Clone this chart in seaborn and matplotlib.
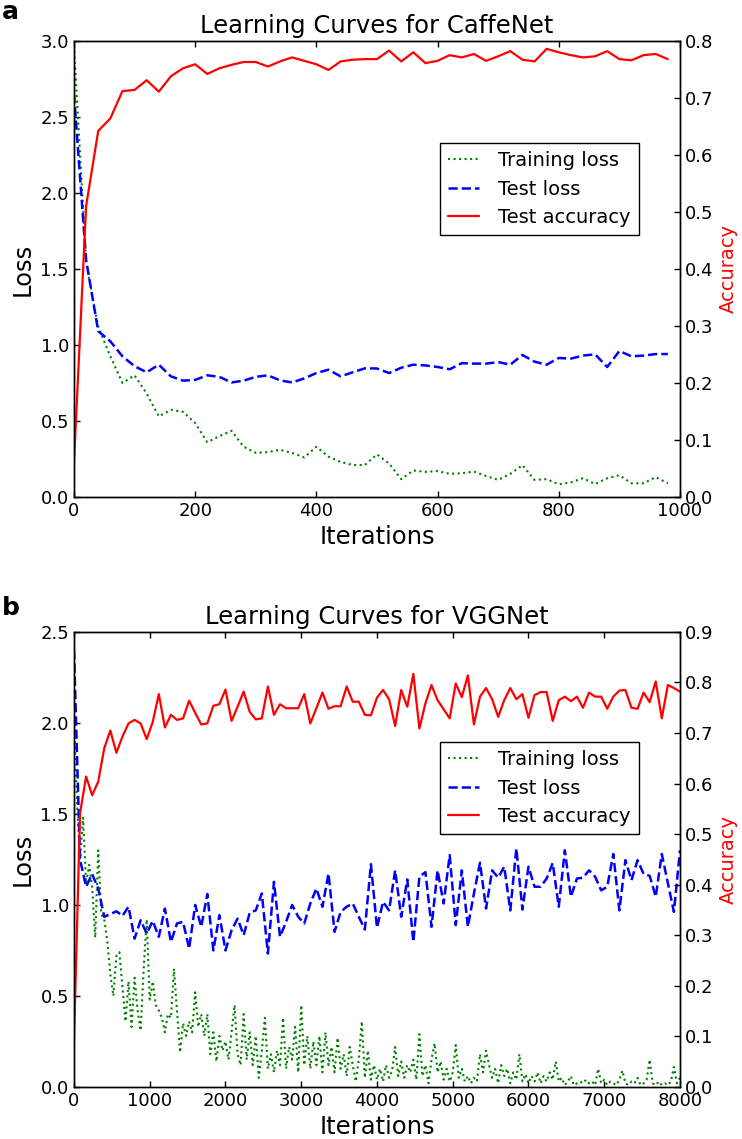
import matplotlib
matplotlib.use('Agg')
import matplotlib.pyplot as plt
import numpy as np
import seaborn as sns

# CaffeNet: every 20 iterations
caffe_iters = np.arange(0, 1000, 20)
caffe_train_loss = [2.97, 1.54, 1.12, 0.925, 0.75, 0.80, 0.68, 0.53, 0.573, 0.56,
                    0.486, 0.36, 0.40, 0.435, 0.33, 0.29, 0.295, 0.31, 0.29, 0.26,
                    0.33, 0.265, 0.23, 0.21, 0.21, 0.28, 0.22, 0.117, 0.174, 0.165,
                    0.17, 0.152, 0.156, 0.167, 0.138, 0.112, 0.152, 0.209, 0.112, 0.117,
                    0.083, 0.096, 0.123, 0.085, 0.123, 0.143, 0.09, 0.09, 0.13, 0.09]
caffe_test_loss = [2.65, 1.56, 1.09, 1.024, 0.925, 0.86, 0.82, 0.87, 0.793, 0.765,
                   0.77, 0.80, 0.79, 0.753, 0.765, 0.79, 0.80, 0.767, 0.753, 0.78,
                   0.815, 0.837, 0.793, 0.82, 0.846, 0.845, 0.815, 0.85, 0.87, 0.865,
                   0.855, 0.84, 0.88, 0.877, 0.877, 0.887, 0.87, 0.934, 0.89, 0.87,
                   0.914, 0.91, 0.93, 0.938, 0.855, 0.96, 0.925, 0.93, 0.94, 0.94]
caffe_test_acc = [0.06, 0.51, 0.642, 0.664, 0.712, 0.714, 0.731, 0.711, 0.738, 0.752,
                  0.759, 0.742, 0.752, 0.758, 0.763, 0.763, 0.755, 0.764, 0.771, 0.765,
                  0.759, 0.749, 0.764, 0.767, 0.768, 0.768, 0.783, 0.764, 0.78, 0.761,
                  0.765, 0.775, 0.771, 0.777, 0.765, 0.773, 0.782, 0.767, 0.764, 0.786,
                  0.78, 0.775, 0.771, 0.773, 0.782, 0.768, 0.766, 0.775, 0.777, 0.768]

# VGGNet: training loss every 40 iterations, tests every 80
vgg_train_iters = np.arange(0, 8001, 40)
vgg_test_iters = np.arange(0, 8001, 80)
vgg_train_loss = [2.05, 1.55, 1.25, 1.48, 1.12, 1.22, 1.10, 0.82, 1.30, 0.95,
                  0.92, 0.80, 0.62, 0.50, 0.72, 0.74, 0.55, 0.36, 0.58, 0.33,
                  0.60, 0.42, 0.31, 0.65, 0.92, 0.48, 0.58, 0.45, 0.42, 0.38,
                  0.30, 0.40, 0.38, 0.65, 0.42, 0.19, 0.35, 0.28, 0.36, 0.30,
                  0.52, 0.33, 0.40, 0.28, 0.40, 0.18, 0.30, 0.14, 0.28, 0.20,
                  0.25, 0.15, 0.30, 0.45, 0.18, 0.12, 0.40, 0.15, 0.30, 0.12,
                  0.28, 0.05, 0.20, 0.38, 0.10, 0.18, 0.08, 0.20, 0.12, 0.38,
                  0.10, 0.22, 0.15, 0.33, 0.08, 0.45, 0.12, 0.28, 0.10, 0.25,
                  0.12, 0.28, 0.08, 0.30, 0.12, 0.22, 0.08, 0.27, 0.10, 0.18,
                  0.06, 0.22, 0.12, 0.03, 0.15, 0.36, 0.05, 0.20, 0.04, 0.12,
                  0.04, 0.10, 0.03, 0.12, 0.05, 0.09, 0.22, 0.06, 0.14, 0.05,
                  0.12, 0.08, 0.15, 0.04, 0.29, 0.06, 0.12, 0.02, 0.15, 0.24,
                  0.08, 0.14, 0.04, 0.10, 0.03, 0.08, 0.23, 0.05, 0.10, 0.03,
                  0.06, 0.02, 0.05, 0.03, 0.18, 0.08, 0.20, 0.12, 0.05, 0.10,
                  0.02, 0.12, 0.06, 0.10, 0.02, 0.08, 0.04, 0.18, 0.03, 0.07,
                  0.02, 0.06, 0.03, 0.08, 0.02, 0.06, 0.03, 0.08, 0.04, 0.14,
                  0.03, 0.05, 0.01, 0.03, 0.06, 0.01, 0.02, 0.03, 0.02, 0.04,
                  0.02, 0.03, 0.01, 0.10, 0.02, 0.04, 0.01, 0.03, 0.02, 0.01,
                  0.04, 0.09, 0.02, 0.01, 0.03, 0.02, 0.05, 0.01, 0.02, 0.04,
                  0.15, 0.02, 0.01, 0.03, 0.01, 0.02, 0.01, 0.03, 0.11, 0.02, 0.05]
vgg_test_loss = [2.40, 1.25, 1.10, 1.17, 1.09, 0.935, 0.95, 0.965, 0.94, 0.99,
                 0.815, 0.916, 0.843, 0.912, 0.825, 0.98, 0.797, 0.898, 0.907, 0.76,
                 1.00, 0.88, 1.06, 0.75, 0.944, 0.75, 0.86, 0.925, 0.834, 0.957,
                 0.97, 1.063, 0.733, 1.127, 0.825, 0.907, 1.00, 0.935, 0.898, 1.008,
                 1.09, 0.99, 1.173, 0.852, 0.962, 0.99, 1.008, 0.935, 0.865, 1.224,
                 0.875, 1.017, 0.97, 1.19, 0.935, 1.14, 0.797, 1.155, 1.18, 0.88,
                 1.19, 1.008, 1.274, 0.889, 1.19, 0.88, 1.063, 1.232, 0.98, 1.19,
                 1.15, 1.21, 0.97, 1.31, 0.975, 1.21, 1.10, 1.10, 1.145, 1.23,
                 0.99, 1.30, 1.045, 1.145, 1.15, 1.19, 1.155, 1.08, 1.10, 1.28,
                 0.97, 1.246, 1.136, 1.246, 1.17, 1.16, 1.045, 1.28, 1.12, 0.962, 1.30]
vgg_test_acc = [0.09, 0.541, 0.614, 0.577, 0.604, 0.670, 0.705, 0.661, 0.693, 0.719,
                0.726, 0.719, 0.688, 0.722, 0.777, 0.711, 0.736, 0.726, 0.729, 0.764,
                0.740, 0.717, 0.719, 0.754, 0.757, 0.786, 0.724, 0.752, 0.782, 0.742,
                0.727, 0.729, 0.792, 0.736, 0.757, 0.749, 0.749, 0.749, 0.777, 0.719,
                0.749, 0.780, 0.748, 0.753, 0.753, 0.792, 0.762, 0.762, 0.736, 0.735,
                0.770, 0.785, 0.767, 0.714, 0.785, 0.752, 0.817, 0.709, 0.759, 0.795,
                0.765, 0.747, 0.729, 0.798, 0.771, 0.814, 0.717, 0.772, 0.789, 0.767,
                0.732, 0.765, 0.789, 0.767, 0.777, 0.730, 0.775, 0.781, 0.781, 0.724,
                0.765, 0.772, 0.763, 0.772, 0.750, 0.780, 0.772, 0.772, 0.748, 0.772,
                0.784, 0.785, 0.750, 0.748, 0.780, 0.761, 0.802, 0.729, 0.795, 0.789, 0.782]

sns.set_theme(style="white", rc={
    'axes.edgecolor': 'black', 'axes.linewidth': 1.0,
    'text.color': 'black', 'axes.labelcolor': 'black',
    'xtick.color': 'black', 'ytick.color': 'black',
    'xtick.direction': 'in', 'ytick.direction': 'in',
    'xtick.bottom': True, 'xtick.top': True, 'ytick.left': True,
    'xtick.major.size': 4, 'ytick.major.size': 4,
    'xtick.major.width': 1, 'ytick.major.width': 1,
})
plt.rcParams['font.family'] = ['DejaVu Sans']


def panel(ax, title, tr_x, tr_y, te_x, te_loss, te_acc, xmax, xstep, lmax, amax, legend_top):
    sns.lineplot(x=tr_x, y=tr_y, ax=ax, color='green', linestyle=':', lw=1.5, label='Training loss')
    sns.lineplot(x=te_x, y=te_loss, ax=ax, color='blue', linestyle='--', lw=1.8, label='Test loss')
    ax2 = ax.twinx()
    sns.lineplot(x=te_x, y=te_acc, ax=ax2, color='red', lw=1.6, label='Test accuracy')
    ax.get_legend().remove()
    ax2.get_legend().remove()

    ax.set_xlim(0, xmax)
    ax.set_ylim(0, lmax)
    ax2.set_ylim(0, amax)
    ax.set_xticks(np.arange(0, xmax + 1, xstep))
    ax.set_yticks(np.arange(0, lmax + 0.01, 0.5))
    ax2.set_yticks(np.arange(0, amax + 0.01, 0.1))
    ax.tick_params(labelsize=13, right=False)
    ax2.tick_params(labelsize=13, right=True, direction='in', length=4)
    for s in ax.spines.values():
        s.set_visible(True)
    for s in ax2.spines.values():
        s.set_visible(True)

    ax.set_title(title, fontsize=17.5)
    ax.set_xlabel('Iterations', fontsize=17.5)
    ax.set_ylabel('Loss', fontsize=17.5)
    ax2.set_ylabel('Accuracy', fontsize=14, color='red')

    h1, l1 = ax.get_legend_handles_labels()
    h2, l2 = ax2.get_legend_handles_labels()
    leg = ax2.legend(h1 + h2, l1 + l2, loc='upper right', bbox_to_anchor=(0.932, legend_top),
                     borderaxespad=0, fontsize=14, fancybox=False, framealpha=1,
                     edgecolor='black', handlelength=1.6, handletextpad=1.0)
    leg.get_frame().set_linewidth(1.0)


fig = plt.figure(figsize=(7.42, 11.39), dpi=100)
ax_a = fig.add_axes([0.0997, 0.5637, 0.8167, 0.4004])
ax_b = fig.add_axes([0.0997, 0.0457, 0.8167, 0.3995])

panel(ax_a, 'Learning Curves for CaffeNet', caffe_iters, caffe_train_loss, caffe_iters,
      caffe_test_loss, caffe_test_acc, 1000, 200, 3.0, 0.8, 0.776)
panel(ax_b, 'Learning Curves for VGGNet', vgg_train_iters, vgg_train_loss, vgg_test_iters,
      vgg_test_loss, vgg_test_acc, 8000, 1000, 2.5, 0.9, 0.758)

fig.text(0.002, 0.983, 'a', fontsize=18, fontweight='bold')
fig.text(0.002, 0.460, 'b', fontsize=18, fontweight='bold')

fig.savefig('out.png', dpi=100, facecolor='white')
